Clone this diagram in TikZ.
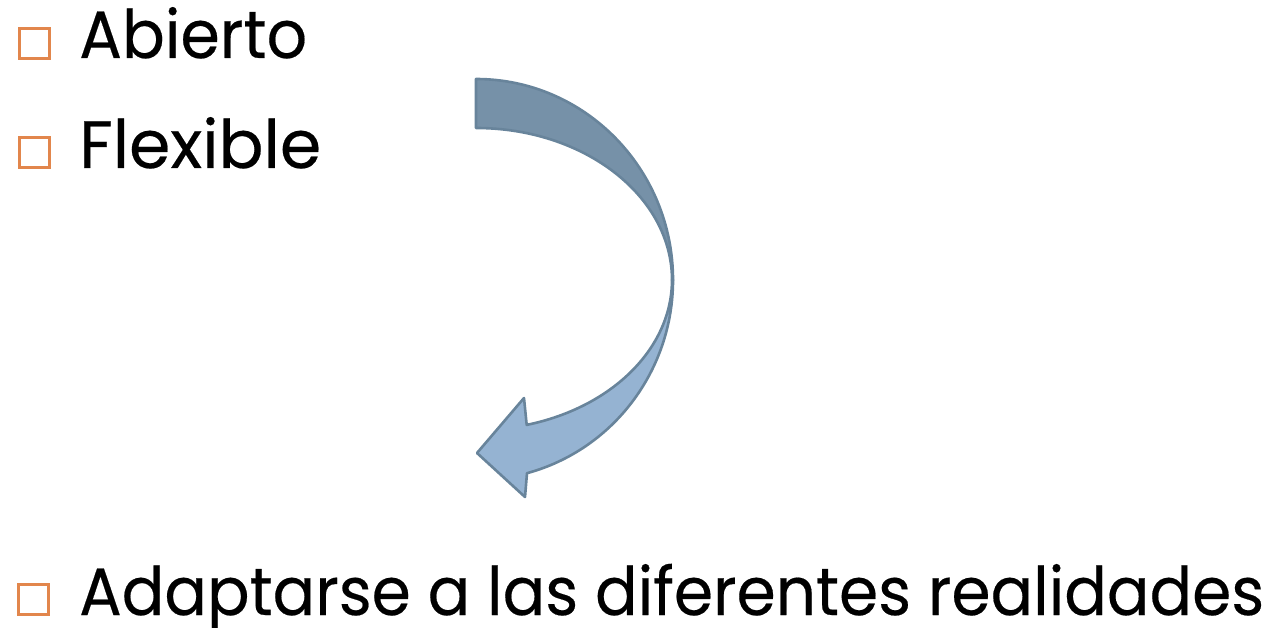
\documentclass[tikz,border=0pt]{standalone}
\usepackage{fontspec}
\setmainfont{Poppins}[FakeBold=0.3]
\definecolor{bulletorange}{RGB}{226,134,76}
\definecolor{arrowdark}{RGB}{118,145,168}
\definecolor{arrowlight}{RGB}{149,179,210}
\definecolor{arrowline}{RGB}{104,132,155}
\begin{document}
\begin{tikzpicture}[x=1pt,y=-1pt,
  bulletbox/.style={draw=bulletorange,line width=3pt,minimum size=30pt,inner sep=0pt,anchor=north west},
  itemtext/.style={anchor=base west,inner sep=0pt,font=\fontsize{67}{80}\selectfont},
  arrowpart/.style={draw=arrowline,line width=2.6pt,line join=round}]
\useasboundingbox (0,0) rectangle (1268,628);
\node[bulletbox] (b1) at (17.5,27.5) {};
\node[bulletbox] (b2) at (17.5,136.5) {};
\node[bulletbox] (b3) at (16.5,583) {};
\node[itemtext] (t1) at (79,58) {\resizebox{228pt}{\height}{Abierto}};
\node[itemtext] (t2) at (79,168) {\resizebox{242pt}{\height}{Flexible}};
\node[itemtext] (t3) at (79,615) {\resizebox{1185pt}{\height}{Adaptarse a las diferentes realidades}};
% curved arrow: back (dark) part
\filldraw[arrowpart,fill=arrowdark] (476,79) arc[start angle=-90,end angle=0,x radius=197,y radius=201]
  -- (672,280) arc[start angle=0,end angle=-90,x radius=196,y radius=152] -- cycle;
% front (light) part with head
\filldraw[arrowpart,fill=arrowlight] (673,280) arc[start angle=0,end angle=75,x radius=197,y radius=200]
  -- (525,497) -- (477,453) -- (524,398) -- (526.7,424.9)
  arc[start angle=75,end angle=0,x radius=196,y radius=150] -- cycle;
\end{tikzpicture}
\end{document}
